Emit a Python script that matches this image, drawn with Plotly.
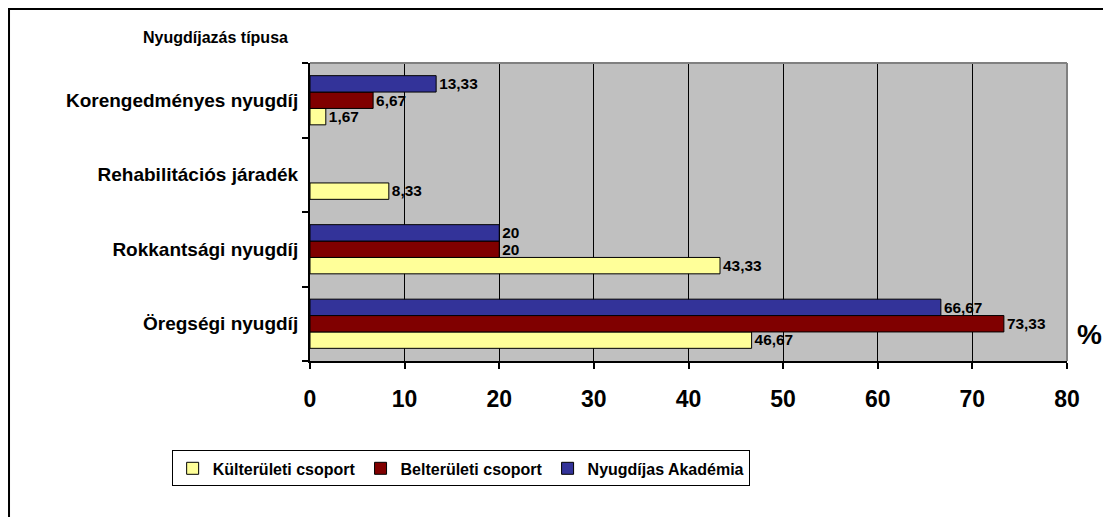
import plotly.graph_objects as go

# ── data ──────────────────────────────────────────────────────────────────────
categories = ["Öregségi nyugdíj", "Rokkantsági nyugdíj",
              "Rehabilitációs járadék", "Korengedményes nyugdíj"]
kulteruleti = [46.67, 43.33, 8.33, 1.67]
belteruleti = [73.33, 20, None, 6.67]
akademia = [66.67, 20, None, 13.33]

series_names = ["Külterületi csoport", "Belterületi csoport", "Nyugdíjas Akadémia"]
series_colors = ["#FFFF99", "#800000", "#333399"]
x_ticks = [0, 10, 20, 30, 40, 50, 60, 70, 80]


def fmt(v):
    # Hungarian decimal comma, integers without decimals
    if v is None:
        return None
    if float(v).is_integer():
        return str(int(v))
    return f"{v:.2f}".replace(".", ",")


FONT = "Arial, Liberation Sans, sans-serif"

fig = go.Figure()

for name, vals, color in zip(series_names, [kulteruleti, belteruleti, akademia], series_colors):
    fig.add_trace(go.Bar(
        y=categories,
        x=vals,
        name=name,
        orientation="h",
        marker=dict(color=color, line=dict(color="black", width=1)),
        text=[fmt(v) for v in vals],
        textposition="outside",
        textfont=dict(family=FONT, size=16, color="black", weight="bold"),
        cliponaxis=False,
    ))

# the page body has an 8px margin, so the figure is 8px smaller than the window
fig.update_layout(
    width=1103,
    height=509,
    barmode="group",
    bargap=0.34,
    bargroupgap=0,
    paper_bgcolor="white",
    plot_bgcolor="#C0C0C0",
    font=dict(family=FONT, color="black", weight="bold"),
    margin=dict(l=302, r=44, t=55, b=156, autoexpand=False),
    showlegend=True,
    legend=dict(
        orientation="h",
        x=0.199, xanchor="center",
        y=-0.30, yanchor="top",
        bordercolor="black", borderwidth=1,
        font=dict(family=FONT, size=16, color="black", weight="bold"),
        traceorder="normal",
    ),
    xaxis=dict(
        range=[0, 80],
        tickvals=x_ticks,
        showgrid=True, gridcolor="black", gridwidth=1,
        zeroline=False,
        showline=True, linecolor="black", linewidth=2,
        ticks="outside", ticklen=6, tickcolor="black", tickwidth=2,
        tickfont=dict(family=FONT, size=23, color="black", weight="bold"),
        ticklabelstandoff=10,
    ),
    yaxis=dict(
        showgrid=False,
        showline=True, linecolor="black", linewidth=2,
        ticks="outside", ticklen=6, tickcolor="black", tickwidth=2,
        tickson="boundaries",
        tickfont=dict(family=FONT, size=19, color="black", weight="bold"),
        ticklabelstandoff=6,
    ),
    shapes=[
        # outer chart border (only left and top fall inside the picture)
        dict(type="rect", xref="paper", yref="paper",
             x0=-0.3976, x1=2, y0=-1, y1=1.181,
             line=dict(color="black", width=2)),
        # grey plot-area frame on top and right
        dict(type="line", xref="paper", yref="paper", x0=0, x1=1, y0=1, y1=1,
             line=dict(color="#808080", width=2), layer="above"),
        dict(type="line", xref="paper", yref="paper", x0=1, x1=1, y0=0, y1=1,
             line=dict(color="#808080", width=2), layer="above"),
    ],
    annotations=[
        dict(text="Nyugdíjazás típusa", xref="paper", yref="paper",
             x=-0.125, y=1.087, xanchor="center", yanchor="middle",
             showarrow=False,
             font=dict(family=FONT, size=16, color="black", weight="bold")),
        dict(text="%", xref="paper", yref="paper",
             x=1.03, y=0.09, xanchor="center", yanchor="middle",
             showarrow=False,
             font=dict(family=FONT, size=28, color="black", weight="bold")),
    ],
)

fig.write_html("out.html")
